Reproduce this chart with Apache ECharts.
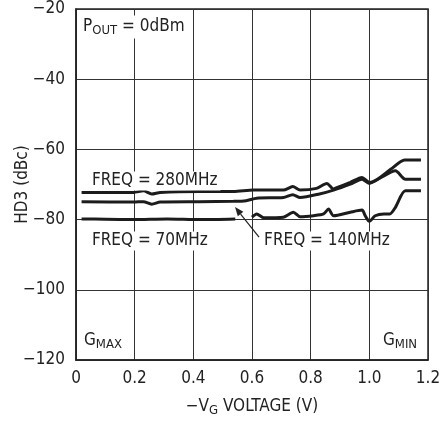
<!DOCTYPE html>
<html>
<head>
<meta charset="utf-8">
<script src="https://cdn.jsdelivr.net/npm/echarts@6/dist/echarts.min.js"></script>
<style>
html,body{margin:0;padding:0;background:#fff;}
#c{width:439px;height:421px;}
</style>
</head>
<body>
<div id="c"></div>
<script>
var FONT = "'Liberation Sans Narrow', 'DejaVu Sans Condensed', sans-serif";
var xTickLabels = ['0', '0.2', '0.4', '0.6', '0.8', '1.0', '1.2'];
var yTickLabels = ['\u2212120', '\u2212100', '\u221280', '\u221260', '\u221240', '\u221220'];

var freq70 = [
  [0.019, -79.8], [0.1, -79.9], [0.196, -80.0], [0.31, -79.8], [0.423, -80.0], [0.543, -79.8],
  [0.57, null],
  [0.6, -79.3], [0.616, -78.4], [0.64, -79.5], [0.707, -79.3], [0.741, -77.9], [0.764, -79.2],
  [0.81, -78.9], [0.844, -78.4], [0.861, -77.0], [0.878, -78.9], [0.935, -77.9], [0.975, -77.3],
  [0.986, -78.9], [1.0, -80.5], [1.02, -78.9], [1.05, -78.4], [1.07, -78.4], [1.089, -76.5],
  [1.123, -71.8], [1.176, -71.8]
];
var freq140 = [
  [0.019, -74.9], [0.196, -75.0], [0.23, -74.9], [0.258, -75.6], [0.287, -75.0], [0.42, -74.9],
  [0.537, -74.8], [0.58, -74.6], [0.616, -73.9], [0.707, -73.7], [0.739, -72.9], [0.764, -73.7],
  [0.83, -72.7], [0.878, -71.6], [0.935, -69.9], [0.975, -68.5], [1.0, -69.7], [1.04, -68.0],
  [1.089, -66.1], [1.123, -68.5], [1.176, -68.5]
];
var freq280 = [
  [0.019, -72.25], [0.196, -72.25], [0.23, -71.8], [0.258, -72.7], [0.287, -72.25], [0.42, -72.0],
  [0.537, -72.0], [0.605, -71.6], [0.707, -71.6], [0.739, -70.6], [0.764, -71.6], [0.82, -71.1],
  [0.855, -69.7], [0.878, -71.3], [0.889, -70.9], [0.935, -69.4], [0.975, -68.0], [1.0, -69.4],
  [1.028, -68.5], [1.074, -65.6], [1.12, -63.0], [1.176, -63.0]
];

var LINE = '#1c1c1c';
var TXT = '#222';
var chart = echarts.init(document.getElementById('c'));

function mkSeries(name, data) {
  return {
    name: name, type: 'line', data: data, showSymbol: false, symbol: 'none',
    smooth: 0.25, connectNulls: false,
    lineStyle: { color: LINE, width: 3 }, z: 3, animation: false
  };
}

chart.setOption({
  animation: false,
  textStyle: { fontFamily: FONT },
  grid: {
    left: 76, right: 11, top: 9, bottom: 61, containLabel: false, outerBoundsMode: 'none',
    show: true, borderColor: '#222', borderWidth: 1.5, backgroundColor: 'transparent'
  },
  xAxis: {
    type: 'value', min: 0, max: 1.2, interval: 0.2,
    axisLine: { show: true, lineStyle: { color: '#222', width: 1.5 } },
    axisTick: { show: false },
    splitLine: { show: true, lineStyle: { color: '#333', width: 1 } },
    axisLabel: {
      color: TXT, fontSize: 17, fontFamily: FONT, margin: 10,
      formatter: function (v) { return xTickLabels[Math.round(v / 0.2)]; }
    },
    name: '\u2212V{sub|G} VOLTAGE (V)', nameLocation: 'middle', nameGap: 36, nameMoveOverlap: false,
    nameTextStyle: {
      color: TXT, fontSize: 17, fontFamily: FONT,
      rich: { sub: { fontSize: 13, fontFamily: FONT, color: TXT, verticalAlign: 'bottom', padding: [8, 0, 0, 0] } }
    }
  },
  yAxis: {
    type: 'value', min: -120, max: -20, interval: 20,
    axisLine: { show: true, lineStyle: { color: '#222', width: 1.5 } },
    axisTick: { show: false },
    splitLine: { show: true, lineStyle: { color: '#333', width: 1 } },
    axisLabel: {
      color: TXT, fontSize: 17, fontFamily: FONT, margin: 11,
      formatter: function (v) { return yTickLabels[Math.round((v + 120) / 20)]; }
    },
    name: 'HD3 (dBc)', nameLocation: 'middle', nameGap: 45, nameMoveOverlap: false,
    nameTextStyle: { color: TXT, fontSize: 17, fontFamily: FONT }
  },
  series: [mkSeries('70MHz', freq70), mkSeries('140MHz', freq140), mkSeries('280MHz', freq280)]
});

function px(x, y) { return chart.convertToPixel({ gridIndex: 0 }, [x, y]); }

var subRich = {
  b: { fontSize: 17, fontFamily: FONT, fill: TXT, color: TXT },
  s: { fontSize: 13, fontFamily: FONT, fill: TXT, color: TXT, verticalAlign: 'bottom', padding: [8, 0, 0, 0] }
};

function label(text, pos, align, rich) {
  var p = px(pos[0], pos[1]);
  return {
    type: 'text', x: p[0], y: p[1], z: 10,
    style: {
      text: text, font: '17px ' + FONT, fill: TXT,
      align: align, verticalAlign: 'middle',
      backgroundColor: '#fff', padding: [1, 3, 1, 3],
      rich: rich
    }
  };
}

var a0 = px(0.624, -85.0), a1 = px(0.542, -76.4);
var ang = Math.atan2(a1[1] - a0[1], a1[0] - a0[0]);
var hl = 9, hw = 3.5;
var ax = a1[0], ay = a1[1];
var bx = ax - hl * Math.cos(ang), by = ay - hl * Math.sin(ang);
var nx = -Math.sin(ang) * hw, ny = Math.cos(ang) * hw;

chart.setOption({
  graphic: [
    label('{b|P}{s|OUT}{b| = 0dBm}', [0.014, -25.1], 'left', subRich),
    label('FREQ = 280MHz', [0.044, -69.0], 'left'),
    label('FREQ = 70MHz', [0.044, -86.1], 'left'),
    label('FREQ = 140MHz', [0.631, -86.1], 'left'),
    label('{b|G}{s|MAX}', [0.017, -114.6], 'left', subRich),
    label('{b|G}{s|MIN}', [1.173, -114.6], 'right', subRich),
    {
      type: 'line', z: 9,
      shape: { x1: a0[0], y1: a0[1], x2: bx, y2: by },
      style: { stroke: '#222', lineWidth: 1.2 }
    },
    {
      type: 'polygon', z: 9,
      shape: { points: [[ax, ay], [bx + nx, by + ny], [bx - nx, by - ny]] },
      style: { fill: '#222' }
    }
  ]
});
</script>
</body>
</html>
